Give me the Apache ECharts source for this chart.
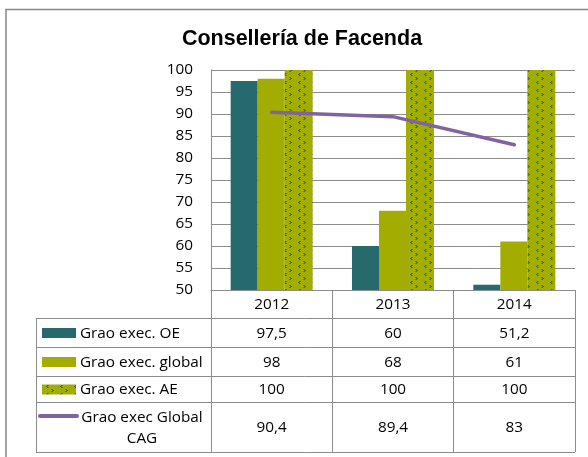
<!DOCTYPE html>
<html><head><meta charset="utf-8">
<script src="https://cdn.jsdelivr.net/npm/echarts@6/dist/echarts.min.js"></script>
<style>html,body{margin:0;padding:0;background:#fff}#c{width:588px;height:457px}</style>
</head><body><div id="c"></div>
<script>
// ---- data ----
const title = 'Consellería de Facenda';
const categories = ['2012', '2013', '2014'];
const seriesNames = ['Grao exec. OE', 'Grao exec. global', 'Grao exec. AE', 'Grao exec Global\nCAG'];
const oeValues = [97.5, 60, 51.2];
const globalValues = [98, 68, 61];
const aeValues = [100, 100, 100];
const cagValues = [90.4, 89.4, 83];
const yMin = 50, yMax = 100, yInterval = 5;

// ---- style ----
const TEAL = '#276a6e', OLIVE = '#a3ad00', PURPLE = '#8064a2';
const LINE = '#8c8c8c';
const FONT = 'Open Sans';
const FS = 15.3;

function makePattern() {
  const c = document.createElement('canvas');
  c.width = 14; c.height = 8;
  const g = c.getContext('2d');
  g.fillStyle = OLIVE; g.fillRect(0, 0, 14, 8);
  g.fillStyle = '#2c6f6a';
  [[5,1],[4,2],[5,3]].forEach(p => g.fillRect(p[0], p[1], 1, 1));
  [[10,5],[11,6],[10,7]].forEach(p => g.fillRect(p[0], p[1], 1, 1));
  g.fillStyle = 'rgba(44,111,106,0.6)';
  [[6,1],[5,2],[6,3]].forEach(p => g.fillRect(p[0], p[1], 1, 1));
  [[9,5],[10,6],[9,7]].forEach(p => g.fillRect(p[0], p[1], 1, 1));
  return { image: c, repeat: 'repeat' };
}
const pattern = makePattern();

const fmt = v => String(v).replace('.', ',');

const chart = echarts.init(document.getElementById('c'), null, { renderer: 'canvas' });
const gridTop = 70, gridBottomY = 290;
chart.setOption({
  animation: false,
  backgroundColor: '#fff',
  title: {
    text: title, left: 297, top: 23, textAlign: 'center',
    textStyle: { fontFamily: 'Liberation Sans', fontSize: 21.5, fontWeight: 'bold', color: '#000' }
  },
  grid: { left: 211, top: gridTop, width: 364, height: gridBottomY - gridTop },
  xAxis: {
    type: 'category', data: categories,
    axisLine: { show: true, lineStyle: { color: LINE, width: 1 } },
    axisTick: { show: true, length: 162, lineStyle: { color: LINE, width: 1 } },
    axisLabel: { color: '#000', fontFamily: FONT, fontSize: FS, margin: 7 }
  },
  yAxis: {
    type: 'value', min: yMin, max: yMax, interval: yInterval,
    axisLine: { show: true, lineStyle: { color: LINE, width: 1 } },
    axisTick: { show: false },
    splitLine: { lineStyle: { color: LINE, width: 1 } },
    axisLabel: { color: '#000', fontFamily: FONT, fontSize: FS, margin: 18 }
  },
  series: [
    { name: seriesNames[0], type: 'bar', data: oeValues, barWidth: 27, barGap: '0%', itemStyle: { color: TEAL } },
    { name: seriesNames[1], type: 'bar', data: globalValues, barWidth: 27, barGap: '0%', itemStyle: { color: OLIVE } },
    { name: seriesNames[2], type: 'bar', data: aeValues, barWidth: 28, barGap: '0%', itemStyle: { color: pattern } },
    { name: seriesNames[3], type: 'line', data: cagValues, showSymbol: false, symbol: 'none',
      lineStyle: { color: PURPLE, width: 3.5, cap: 'round' }, z: 5 }
  ]
});

// ---- data table drawn below the axis ----
const centers = categories.map(c => chart.convertToPixel({ xAxisIndex: 0 }, c));
const band = centers[1] - centers[0];
const tableLeft = 36, tableRight = centers[centers.length - 1] + band / 2;
const rowEdges = [318, 347, 376, 402, 452];
const valueRows = [oeValues, globalValues, aeValues, cagValues];
const g = [];
// outer border
g.push({ type: 'rect', shape: { x: 6, y: 9.5, width: 700, height: 600 }, style: { fill: 'none', stroke: '#888', lineWidth: 1.5 }, silent: true });
// horizontal lines
rowEdges.forEach(y => g.push({ type: 'line', shape: { x1: tableLeft, y1: y + 0.5, x2: tableRight, y2: y + 0.5 }, style: { stroke: LINE, lineWidth: 1 } }));
// left edge
g.push({ type: 'line', shape: { x1: tableLeft + 0.5, y1: rowEdges[0], x2: tableLeft + 0.5, y2: rowEdges[rowEdges.length - 1] }, style: { stroke: LINE, lineWidth: 1 } });
const textStyle = { fontFamily: FONT, fontSize: FS, fill: '#000' };
valueRows.forEach((vals, r) => {
  const yc = (rowEdges[r] + rowEdges[r + 1]) / 2 + 1;
  vals.forEach((v, i) => g.push({ type: 'text', x: centers[i], y: yc, style: Object.assign({ text: fmt(v), align: 'center', verticalAlign: 'middle' }, textStyle) }));
  // legend key
  if (r === 3) {
    g.push({ type: 'line', shape: { x1: 40, y1: 416, x2: 77, y2: 416 }, style: { stroke: PURPLE, lineWidth: 4, lineCap: 'round' } });
    g.push({ type: 'text', x: 142, y: yc, style: Object.assign({ text: seriesNames[r], align: 'center', verticalAlign: 'middle', lineHeight: 21 }, textStyle) });
  } else {
    const fill = r === 0 ? TEAL : r === 1 ? OLIVE : pattern;
    g.push({ type: 'rect', shape: { x: 42, y: yc - 5.5, width: 34, height: 10 }, style: { fill: fill } });
    g.push({ type: 'text', x: 80, y: yc, style: Object.assign({ text: seriesNames[r], align: 'left', verticalAlign: 'middle' }, textStyle) });
  }
});
chart.setOption({ graphic: g });
</script>
</body></html>
